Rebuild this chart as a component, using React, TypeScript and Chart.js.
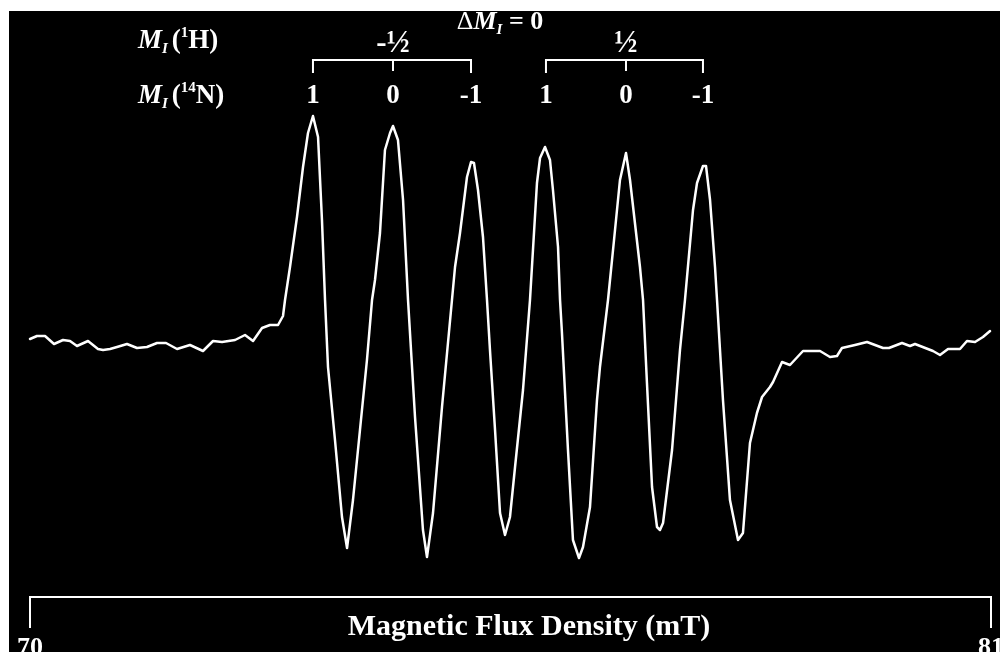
import React, { useEffect, useRef } from 'react';
import { Chart, registerables } from 'chart.js';

Chart.register(...registerables);

// Magnetic flux density (mT) of each sampled point of the ESR trace
const fieldMT = [
  70.0, 70.08, 70.172, 70.275, 70.378, 70.458, 70.538, 70.664, 70.778, 70.836,
  70.916, 70.996, 71.11, 71.225, 71.339, 71.454, 71.557, 71.683, 71.831, 71.98,
  72.095, 72.198, 72.347, 72.461, 72.553, 72.656, 72.747, 72.839, 72.896, 72.919,
  72.976, 73.056, 73.125, 73.182, 73.239, 73.297, 73.342, 73.377, 73.411, 73.491,
  73.571, 73.629, 73.697, 73.777, 73.857, 73.915, 73.949, 74.006, 74.063, 74.121,
  74.155, 74.212, 74.27, 74.327, 74.407, 74.498, 74.544, 74.613, 74.716, 74.83,
  74.865, 74.922, 75.002, 75.048, 75.082, 75.128, 75.185, 75.231, 75.265, 75.323,
  75.38, 75.437, 75.494, 75.552, 75.643, 75.723, 75.803, 75.838, 75.895, 75.952,
  75.986, 76.044, 76.067, 76.089, 76.158, 76.215, 76.284, 76.33, 76.41, 76.49,
  76.524, 76.616, 76.685, 76.753, 76.822, 76.868, 76.982, 77.017, 77.062, 77.12,
  77.177, 77.211, 77.246, 77.349, 77.44, 77.497, 77.589, 77.635, 77.703, 77.738,
  77.784, 77.841, 77.864, 77.932, 78.012, 78.104, 78.161, 78.241, 78.321, 78.379,
  78.47, 78.505, 78.608, 78.699, 78.848, 79.043, 79.157, 79.237, 79.294, 79.443,
  79.581, 79.764, 79.832, 79.981, 80.073, 80.13, 80.336, 80.416, 80.508, 80.645,
  80.725, 80.817, 80.908, 80.989,
];

// First-derivative ESR signal (arbitrary units)
const signal = [
  6, 9, 9, 1, 5, 4, -1, 4, -4, -5,
  -4, -2, 1, -3, -2, 2, 2, -4, 0, -6,
  4, 3, 5, 10, 4, 17, 20, 20, 29, 45,
  78, 128, 178, 212, 229, 208, 125, 45, -22, -95,
  -172, -203, -155, -85, -15, 45, 65, 112, 195, 212,
  219, 205, 145, 45, -72, -185, -212, -168, -62, 45,
  78, 112, 168, 183, 182, 155, 108, 45, -5, -85,
  -168, -190, -172, -122, -45, 45, 162, 187, 198, 185,
  155, 98, 45, 12, -105, -195, -213, -202, -162, -55,
  -22, 45, 105, 165, 192, 165, 78, 45, -38, -142,
  -182, -185, -178, -105, -5, 45, 135, 162, 179, 179,
  145, 78, 45, -55, -155, -195, -188, -98, -68, -52,
  -42, -37, -17, -20, -6, -6, -12, -11, -3, 0,
  3, -3, -3, 2, -1, 1, -6, -10, -4, -4,
  4, 3, 8, 14,
];

const xMin = 70;
const xMax = 81;
const xTickValues = [70, 81];
const xTickLabels = ['70', '81'];
const axisTitle = 'Magnetic Flux Density (mT)';

// hyperfine line positions (mT) and their assignments
const lineCentersMT = [73.239, 74.155, 75.048, 75.906, 76.822, 77.703];
const nLabels = ['1', '0', '-1', '1', '0', '-1'];
const hLabels = ['-½', '½'];

const SERIF = '"Liberation Serif", "Times New Roman", serif';

type Run = { t: string; font: string; dy?: number; gap?: number };

function drawRuns(ctx: CanvasRenderingContext2D, runs: Run[], x: number, y: number) {
  let cx = x;
  for (const r of runs) {
    cx += r.gap || 0;
    ctx.font = r.font;
    ctx.fillText(r.t, cx, y + (r.dy || 0));
    cx += ctx.measureText(r.t).width;
  }
}

function runsWidth(ctx: CanvasRenderingContext2D, runs: Run[]) {
  let w = 0;
  for (const r of runs) {
    ctx.font = r.font;
    w += (r.gap || 0) + ctx.measureText(r.t).width;
  }
  return w;
}

const decorPlugin = {
  id: 'decor',
  beforeDraw(chart: any) {
    const ctx: CanvasRenderingContext2D = chart.ctx;
    ctx.save();
    ctx.fillStyle = '#ffffff';
    ctx.fillRect(0, 0, chart.width, chart.height);
    ctx.fillStyle = '#000000';
    ctx.fillRect(9, 11, chart.width - 9, chart.height - 11);
    ctx.restore();
  },
  afterDraw(chart: any) {
    const ctx: CanvasRenderingContext2D = chart.ctx;
    const xs = chart.scales.x;
    ctx.save();
    ctx.strokeStyle = '#ffffff';
    ctx.fillStyle = '#ffffff';
    ctx.lineWidth = 2;
    ctx.lineCap = 'butt';

    // bottom axis bracket
    const xa = xs.getPixelForValue(xTickValues[0]);
    const xb = xs.getPixelForValue(xTickValues[xTickValues.length - 1]);
    const axY = 597;
    ctx.beginPath();
    ctx.moveTo(xa, 628);
    ctx.lineTo(xa, axY);
    ctx.lineTo(xb, axY);
    ctx.lineTo(xb, 628);
    ctx.stroke();

    ctx.textBaseline = 'alphabetic';
    ctx.textAlign = 'center';
    ctx.font = `bold 26px ${SERIF}`;
    xTickValues.forEach((v, i) => {
      ctx.fillText(xTickLabels[i], xs.getPixelForValue(v), 655);
    });
    ctx.font = `bold 30px ${SERIF}`;
    ctx.fillText(axisTitle, 529, 635);

    // hyperfine brackets
    const px = lineCentersMT.map((v) => xs.getPixelForValue(v));
    const brY = 60;
    for (let g = 0; g < 2; g++) {
      const a = px[g * 3];
      const m = px[g * 3 + 1];
      const b = px[g * 3 + 2];
      ctx.beginPath();
      ctx.moveTo(a, 73);
      ctx.lineTo(a, brY);
      ctx.lineTo(b, brY);
      ctx.lineTo(b, 73);
      ctx.moveTo(m, brY);
      ctx.lineTo(m, 71);
      ctx.stroke();
      ctx.font = `bold 31px ${SERIF}`;
      ctx.textAlign = 'center';
      ctx.fillText(hLabels[g], m, 52);
    }
    ctx.font = `bold 27px ${SERIF}`;
    nLabels.forEach((t, i) => {
      ctx.fillText(t, px[i], 103);
    });

    // left labels
    ctx.textAlign = 'left';
    const big = `bold 27px ${SERIF}`;
    const ital = `italic bold 27px ${SERIF}`;
    const sub = `italic bold 15px ${SERIF}`;
    const sup = `bold 15px ${SERIF}`;
    drawRuns(
      ctx,
      [
        { t: 'M', font: ital },
        { t: 'I', font: sub, dy: 5 },
        { t: '(', font: big, gap: 4 },
        { t: '1', font: sup, dy: -11 },
        { t: 'H)', font: big },
      ],
      138,
      48,
    );
    drawRuns(
      ctx,
      [
        { t: 'M', font: ital },
        { t: 'I', font: sub, dy: 5 },
        { t: '(', font: big, gap: 4 },
        { t: '14', font: sup, dy: -11 },
        { t: 'N)', font: big },
      ],
      138,
      103,
    );

    // Delta M_I = 0
    const dRuns: Run[] = [
      { t: 'Δ', font: `26px ${SERIF}` },
      { t: 'M', font: `italic bold 26px ${SERIF}` },
      { t: 'I', font: `italic bold 15px ${SERIF}`, dy: 5 },
      { t: ' = 0', font: `bold 26px ${SERIF}` },
    ];
    const dw = runsWidth(ctx, dRuns);
    drawRuns(ctx, dRuns, 500 - dw / 2, 29);
    ctx.restore();
  },
};

export default function App() {
  const ref = useRef<HTMLCanvasElement | null>(null);
  useEffect(() => {
    if (!ref.current) return;
    const chart = new Chart(ref.current, {
      type: 'line',
      data: {
        datasets: [
          {
            data: fieldMT.map((x, i) => ({ x, y: signal[i] })),
            borderColor: '#ffffff',
            borderWidth: 2.5,
            borderJoinStyle: 'round',
            borderCapStyle: 'round',
            pointRadius: 0,
            tension: 0,
            fill: false,
            clip: false,
          } as any,
        ],
      },
      options: {
        responsive: false,
        animation: false,
        layout: { padding: { left: 30, right: 9, top: 100, bottom: 72 } },
        scales: {
          x: { type: 'linear', min: xMin, max: xMax, display: false },
          y: { type: 'linear', min: -235, max: 245, display: false },
        },
        plugins: { legend: { display: false }, tooltip: { enabled: false } },
      },
      plugins: [decorPlugin],
    });
    return () => chart.destroy();
  }, []);
  return (
    <div style={{ position: 'fixed', left: 0, top: 0, width: 1000, height: 652 }}>
      <canvas ref={ref} width={1000} height={652} style={{ display: 'block' }} />
    </div>
  );
}
